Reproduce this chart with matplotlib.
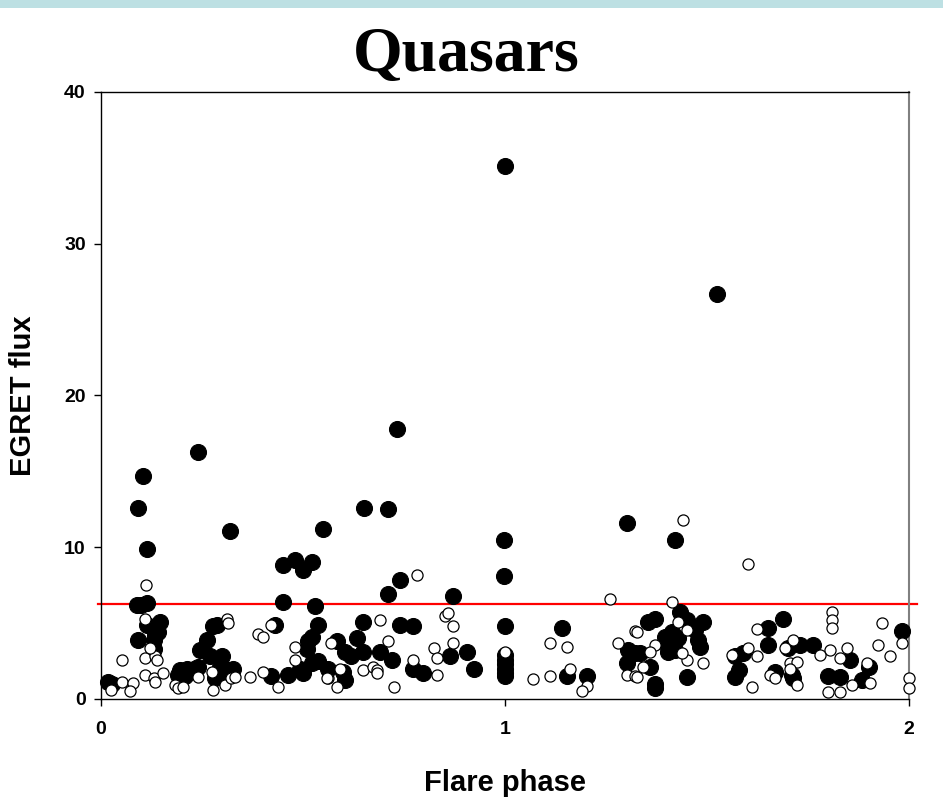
import matplotlib
matplotlib.use("Agg")
import matplotlib.pyplot as plt
from matplotlib.patches import Rectangle

# flare phase / EGRET flux
filled_x = [0.018, 0.026, 0.088, 0.100, 0.113, 0.092, 0.104, 0.092, 0.114, 0.240, 0.320,
            0.113, 0.146, 0.142, 0.130, 0.134, 0.130,
            0.196, 0.212, 0.229, 0.241, 0.191, 0.208,
            0.278, 0.286, 0.262, 0.245, 0.270, 0.299, 0.295, 0.315, 0.282, 0.303,
            0.451, 0.480, 0.500, 0.522,
            0.451, 0.530, 0.431, 0.538, 0.522, 0.513, 0.509, 0.583, 0.633, 0.649, 0.604, 0.620,
            0.649, 0.538, 0.522, 0.563, 0.493, 0.501, 0.464, 0.422, 0.600, 0.604, 0.327,
            0.550, 0.651, 0.711, 0.732,
            0.740, 0.711, 0.872, 0.740, 0.773, 0.691, 0.720, 0.773, 0.798, 0.864, 0.905, 0.922,
            1.000, 0.997, 0.997, 1.000, 1.000, 1.000, 1.000, 1.000, 1.000, 1.000,
            1.140, 1.153, 1.202, 1.305, 1.322, 1.301, 1.301, 1.420, 1.525,
            1.355, 1.371, 1.433, 1.450, 1.491, 1.470, 1.413, 1.396, 1.429, 1.478, 1.483,
            1.404, 1.421, 1.404, 1.334, 1.359, 1.371, 1.371, 1.450, 1.569, 1.590, 1.578,
            1.569, 1.652, 1.652,
            1.689, 1.701, 1.730, 1.763, 1.854, 1.668, 1.710, 1.714, 1.800, 1.829, 1.883,
            1.901, 1.982]
filled_y = [1.1, 1.0, 6.2, 6.2, 6.3, 3.9, 14.7, 12.6, 9.9, 16.3, 11.1,
            4.9, 5.1, 4.4, 3.9, 4.2, 3.3,
            1.9, 2.0, 2.0, 2.1, 1.6, 1.5,
            4.8, 4.9, 3.9, 3.2, 2.8, 2.8, 2.1, 1.9, 1.4, 1.6,
            8.8, 9.15, 8.5, 9.05,
            6.4, 6.1, 4.9, 4.9, 4.1, 3.8, 3.3, 3.8, 4.0, 5.1, 3.1, 2.8,
            3.1, 2.5, 2.4, 2.0, 2.0, 1.7, 1.6, 1.5, 1.8, 1.25, 2.0,
            11.2, 12.6, 12.5, 17.8,
            7.85, 6.9, 6.8, 4.9, 4.8, 3.1, 2.6, 2.0, 1.7, 2.8, 3.1, 2.0,
            35.1, 10.5, 8.1, 4.8, 2.9, 2.6, 2.3, 2.0, 1.7, 1.5,
            4.7, 1.5, 1.5, 3.2, 3.0, 2.35, 11.6, 10.5, 26.7,
            5.1, 5.25, 5.75, 5.2, 5.1, 4.55, 4.4, 4.1, 4.0, 3.9, 3.45,
            3.45, 3.2, 3.1, 3.0, 2.1, 1.0, 0.7, 1.47, 2.8, 3.0, 1.9,
            1.47, 4.66, 3.56,
            5.25, 3.34, 3.56, 3.56, 2.57, 1.8, 1.58, 1.36, 1.52, 1.43, 1.25,
            2.09, 4.5]

open_x = [0.111, 0.109, 0.051, 0.109, 0.134, 0.138, 0.121, 0.051, 0.080, 0.072, 0.109,
          0.130, 0.134, 0.154, 0.025, 0.183, 0.191, 0.204, 0.278, 0.307, 0.311, 0.315,
          0.274, 0.323, 0.241,
          0.389, 0.402, 0.480, 0.480, 0.402, 0.370, 0.332, 0.439, 0.563, 0.583, 0.592,
          0.422, 0.649, 0.569, 0.559,
          0.781, 0.691, 0.711, 0.674, 0.682, 0.682, 0.724, 0.773, 0.823, 0.831, 0.831,
          0.851, 0.860, 0.872, 0.872,
          1.000,
          1.260, 1.111, 1.153, 1.161, 1.070, 1.111, 1.202, 1.190, 1.280, 1.322, 1.301,
          1.322, 1.441,
          1.413, 1.602, 1.429, 1.450, 1.326, 1.371, 1.359, 1.342, 1.326, 1.450, 1.491,
          1.437, 1.561, 1.602, 1.623, 1.611, 1.623, 1.656,
          1.809, 1.809, 1.809, 1.932, 1.982, 1.924, 1.953, 1.714, 1.693, 1.705, 1.722,
          1.705, 1.668, 1.722, 1.804, 1.780, 1.846, 1.829, 1.896, 1.858, 1.903, 1.800,
          1.829, 2.000, 2.000]
open_y = [7.5, 5.3, 2.6, 2.7, 2.8, 2.55, 3.35, 1.15, 1.05, 0.5, 1.6,
          1.35, 1.15, 1.7, 0.6, 0.9, 0.7, 0.8, 0.6, 0.9, 5.3, 5.0,
          1.8, 1.35, 1.45,
          4.3, 4.1, 3.4, 2.6, 1.8, 1.45, 1.45, 0.8, 1.35, 0.8, 2.0,
          4.9, 1.9, 3.67, 1.36,
          8.2, 5.2, 3.8, 2.1, 1.9, 1.7, 0.8, 2.6, 3.35, 2.7, 1.6,
          5.45, 5.65, 4.8, 3.7,
          3.1,
          6.6, 3.7, 3.4, 2.0, 1.3, 1.5, 0.85, 0.5, 3.7, 4.5, 1.6,
          1.5, 11.8,
          6.4, 8.9, 5.1, 4.55, 4.4, 3.56, 3.1, 2.1, 1.47, 2.57, 2.4,
          3.0, 2.9, 3.34, 2.8, 0.8, 4.6, 1.58,
          5.75, 5.2, 4.66, 5.0, 3.7, 3.56, 2.8, 3.9, 3.34, 2.35, 2.46,
          2.0, 1.36, 0.92, 3.23, 2.9, 3.34, 2.68, 2.35, 0.92, 1.03, 0.48,
          0.48, 1.36, 0.7]

threshold = 6.25
x_ticks = [0, 1, 2]
y_ticks = [0, 10, 20, 30, 40]

sans = ['Liberation Sans', 'DejaVu Sans']

fig = plt.figure(figsize=(9.43, 7.99), dpi=100)
fig.patches.append(Rectangle((0, 1 - 8 / 799), 1, 8 / 799, transform=fig.transFigure,
                             facecolor='#bde0e3', edgecolor='none'))
ax = fig.add_axes([0.1071, 0.1252, 0.8569, 0.7597])

ax.plot(filled_x, filled_y, 'o', ms=11.5, mfc='black', mec='black', mew=0.8,
        clip_on=False, zorder=3)
ax.plot(open_x, open_y, 'o', ms=8, mfc='white', mec='black', mew=0.9,
        clip_on=False, zorder=4)
ax.axhline(threshold, xmin=-0.004, xmax=1.01, color='red', lw=1.6, clip_on=False, zorder=2)

ax.set_xlim(0, 2)
ax.set_ylim(0, 40)
ax.set_xticks(x_ticks)
ax.set_yticks(y_ticks)
ax.tick_params(direction='out', length=5, width=1, labelsize=14, pad=11)
ax.tick_params(axis='y', pad=6)
for lab in ax.get_xticklabels() + ax.get_yticklabels():
    lab.set_family(sans)
    lab.set_fontweight('bold')
for s in ['left', 'bottom', 'top']:
    ax.spines[s].set_color('black')
    ax.spines[s].set_linewidth(1)
ax.spines['right'].set_color('#808080')
ax.spines['right'].set_linewidth(1.5)

ax.set_xlabel('Flare phase', family=sans, fontweight='bold', fontsize=21)
ax.set_ylabel('EGRET flux', family=sans, fontweight='bold', fontsize=21)
ax.xaxis.set_label_coords(0.5, -0.115)
ax.yaxis.set_label_coords(-0.079, 0.5)

fig.text(0.494, 0.93, 'Quasars', family=['Liberation Serif', 'DejaVu Serif'],
         fontweight='bold', fontsize=46, ha='center', va='center')

fig.savefig('out.png', dpi=100)
